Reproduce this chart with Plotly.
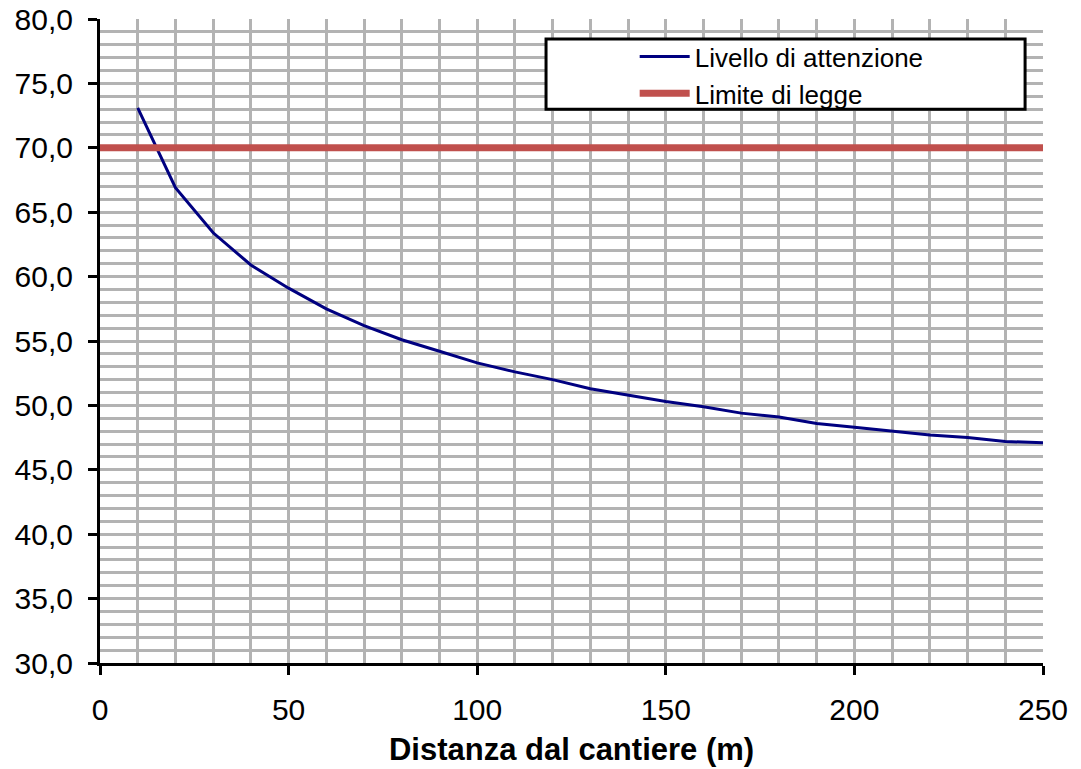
import plotly.graph_objects as go

distanza = [10, 20, 30, 40, 50, 60, 70, 80, 90, 100, 110, 120, 130, 140, 150,
            160, 170, 180, 190, 200, 210, 220, 230, 240, 250]
livello_attenzione = [73.1, 66.9, 63.4, 60.9, 59.1, 57.5, 56.2, 55.1, 54.2, 53.3,
                      52.6, 52.0, 51.3, 50.8, 50.3, 49.9, 49.4, 49.1, 48.6, 48.3,
                      48.0, 47.7, 47.5, 47.2, 47.1]
limite_x = [0, 250]
limite_y = [70.0, 70.0]

fig = go.Figure()
fig.add_trace(go.Scatter(x=distanza, y=livello_attenzione, mode="lines",
                         name="Livello di attenzione",
                         line=dict(color="#000080", width=3)))
fig.add_trace(go.Scatter(x=limite_x, y=limite_y, mode="lines",
                         name="Limite di legge",
                         line=dict(color="#C0504D", width=7)))

font = "Liberation Sans, Arial, sans-serif"
fig.update_layout(
    width=1081, height=769,
    margin=dict(l=100, r=38, t=19, b=106),
    paper_bgcolor="white", plot_bgcolor="white",
    separators=",.",
    font=dict(family=font, size=30, color="black"),
    showlegend=True,
    legend=dict(x=0.567, y=0.978, xanchor="left", yanchor="top",
                bgcolor="rgba(0,0,0,0)", borderwidth=0,
                font=dict(size=26, family=font, color="black"), itemwidth=50,
                tracegroupgap=0),
    shapes=[dict(type="rect", xref="paper", yref="paper",
                 x0=0.473, x1=0.981, y0=0.860, y1=0.969,
                 line=dict(color="black", width=3), fillcolor="white",
                 layer="above")],
    xaxis=dict(range=[0, 250], dtick=50, tick0=0, showgrid=True,
               gridcolor="#B3B3B3", gridwidth=3,
               minor=dict(dtick=10, showgrid=True, gridcolor="#B3B3B3", gridwidth=3),
               showline=True, linecolor="black", linewidth=3,
               ticks="outside", ticklen=9, tickwidth=3, tickcolor="black",
               tickfont=dict(size=30, family=font, color="black"),
               ticklabelstandoff=9, ticklabeloverflow="allow",
               zeroline=False, automargin=False,
               title=dict(text="<b>Distanza dal cantiere (m)</b>",
                          font=dict(size=31, family=font, color="black"), standoff=14)),
    yaxis=dict(range=[30, 80], dtick=5, tick0=30, tickformat=".1f",
               showgrid=True, gridcolor="#B3B3B3", gridwidth=3,
               minor=dict(dtick=1, showgrid=True, gridcolor="#B3B3B3", gridwidth=3),
               showline=True, linecolor="black", linewidth=3,
               ticks="outside", ticklen=9, tickwidth=3, tickcolor="black",
               tickfont=dict(size=30, family=font, color="black"),
               ticklabelstandoff=9, ticklabeloverflow="allow",
               zeroline=False, automargin=False),
)

fig.write_html("out.html", config={"displayModeBar": False},
               post_script="document.body.style.margin='0px';")
